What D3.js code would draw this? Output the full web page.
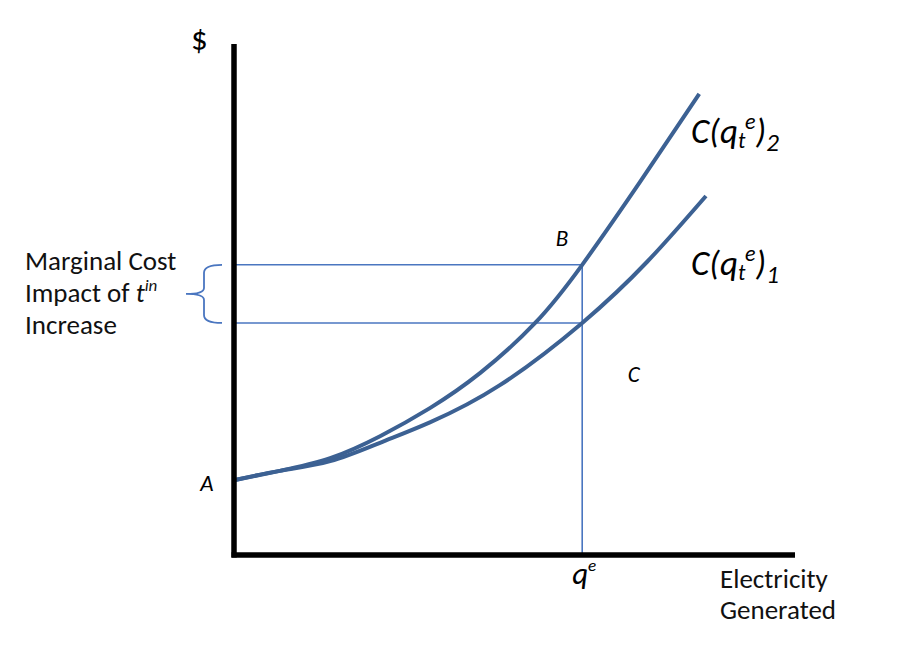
<!DOCTYPE html>
<html><head><meta charset="utf-8">
<script src="https://cdn.jsdelivr.net/npm/d3@7"></script>
<style>body{margin:0;background:#fff}svg{display:block}</style>
</head><body>
<script>
// Data (abstract units: quantity 0..10, cost 0..10)
const curve1 = [[0,1.47],[0.80,1.65],[1.70,1.84],[2.59,2.20],[3.48,2.60],[4.73,3.33],[6.20,4.55],[7.36,5.75],[8.41,7.04]];
const curve2 = [[0,1.47],[0.80,1.65],[1.70,1.90],[2.59,2.33],[3.48,2.88],[4.38,3.57],[5.36,4.55],[6.20,5.69],[7.23,7.31],[8.29,9.04]];
const qe = 6.20;
const mcLevels = [5.69, 4.55];
const pointLabels = [{t:"A",q:-0.5,c:1.26},{t:"B",q:5.84,c:6.05},{t:"C",q:7.12,c:3.39}];

const W=900,H=669;
const svg=d3.select("body").append("svg").attr("width",W).attr("height",H);
const x=d3.scaleLinear().domain([0,10]).range([235,795]);
const y=d3.scaleLinear().domain([0,10]).range([555,45]);
const curveCol="#3c6193", thinCol="#4a76c0";
const font="Carlito, Lato, 'Open Sans', sans-serif";

// thin guide lines
mcLevels.forEach(v=>{
  svg.append("line").attr("x1",x(0)).attr("x2",x(qe)).attr("y1",y(v)).attr("y2",y(v))
    .attr("stroke",thinCol).attr("stroke-width",1.6);
});
svg.append("line").attr("x1",x(qe)).attr("x2",x(qe)).attr("y1",y(mcLevels[0])).attr("y2",y(0))
  .attr("stroke",thinCol).attr("stroke-width",1.6);

// curves
const line=d3.line().x(d=>x(d[0])).y(d=>y(d[1])).curve(d3.curveNatural);
[curve1,curve2].forEach(c=>{
  svg.append("path").attr("d",line(c)).attr("fill","none").attr("stroke",curveCol)
    .attr("stroke-width",4).attr("stroke-linecap","butt");
});

// axes
svg.append("line").attr("x1",x(0)-1).attr("x2",x(0)-1).attr("y1",44).attr("y2",y(0)+2.5)
  .attr("stroke","#000").attr("stroke-width",5.5);
svg.append("line").attr("x1",x(0)-3.5).attr("x2",x(10)).attr("y1",y(0)).attr("y2",y(0))
  .attr("stroke","#000").attr("stroke-width",5.5);

// brace
const yT=y(mcLevels[0]), yB=y(mcLevels[1]), yM=(yT+yB)/2;
const bx=204;
svg.append("path").attr("d",
  `M222,${yT} Q${bx},${yT} ${bx},${yT+8} L${bx},${yM-6} Q${bx},${yM} 186,${yM} Q${bx},${yM} ${bx},${yM+6} L${bx},${yB-8} Q${bx},${yB} 222,${yB}`)
  .attr("fill","none").attr("stroke",thinCol).attr("stroke-width",1.8);

// text
svg.append("text").attr("x",191).attr("y",50).attr("font-family",font).attr("font-size",33).text("$");
const mc=svg.append("text").attr("font-family",font).attr("font-size",27).attr("fill","#111");
mc.append("tspan").attr("x",25).attr("y",270).text("Marginal Cost");
mc.append("tspan").attr("x",25).attr("y",302).text("Impact of ");
mc.append("tspan").attr("font-style","italic").text("t");
mc.append("tspan").attr("font-style","italic").attr("font-size",17).attr("dy",-11).text("in");
mc.append("tspan").attr("x",25).attr("y",334).text("Increase");

pointLabels.forEach(p=>{
  svg.append("text").attr("x",x(p.q)).attr("y",y(p.c)).attr("text-anchor","middle")
    .attr("font-family",font).attr("font-style","italic").attr("font-size",23).text(p.t);
});

const qt=svg.append("text").attr("x",x(qe)+2).attr("y",584).attr("text-anchor","middle")
  .attr("font-family",font).attr("font-style","italic").attr("font-size",31);
qt.append("tspan").text("q");
qt.append("tspan").attr("font-size",17).attr("dy",-13).text("e");

const xl=svg.append("text").attr("font-family",font).attr("font-size",27).attr("fill","#111");
xl.append("tspan").attr("x",720).attr("y",588).text("Electricity");
xl.append("tspan").attr("x",720).attr("y",619).text("Generated");

function costLabel(yb,sub){
  const t=svg.append("text").attr("x",691).attr("y",yb).attr("font-family",font)
    .attr("font-style","italic").attr("font-size",35);
  t.append("tspan").text("C(q");
  t.append("tspan").attr("font-size",22).attr("dy",5).text("t");
  t.append("tspan").attr("font-size",22).attr("dy",-19).text("e");
  t.append("tspan").attr("dy",14).text(")");
  t.append("tspan").attr("font-size",25).attr("dy",8).text(sub);
}
costLabel(143,"2");
costLabel(275,"1");
</script>
</body></html>
